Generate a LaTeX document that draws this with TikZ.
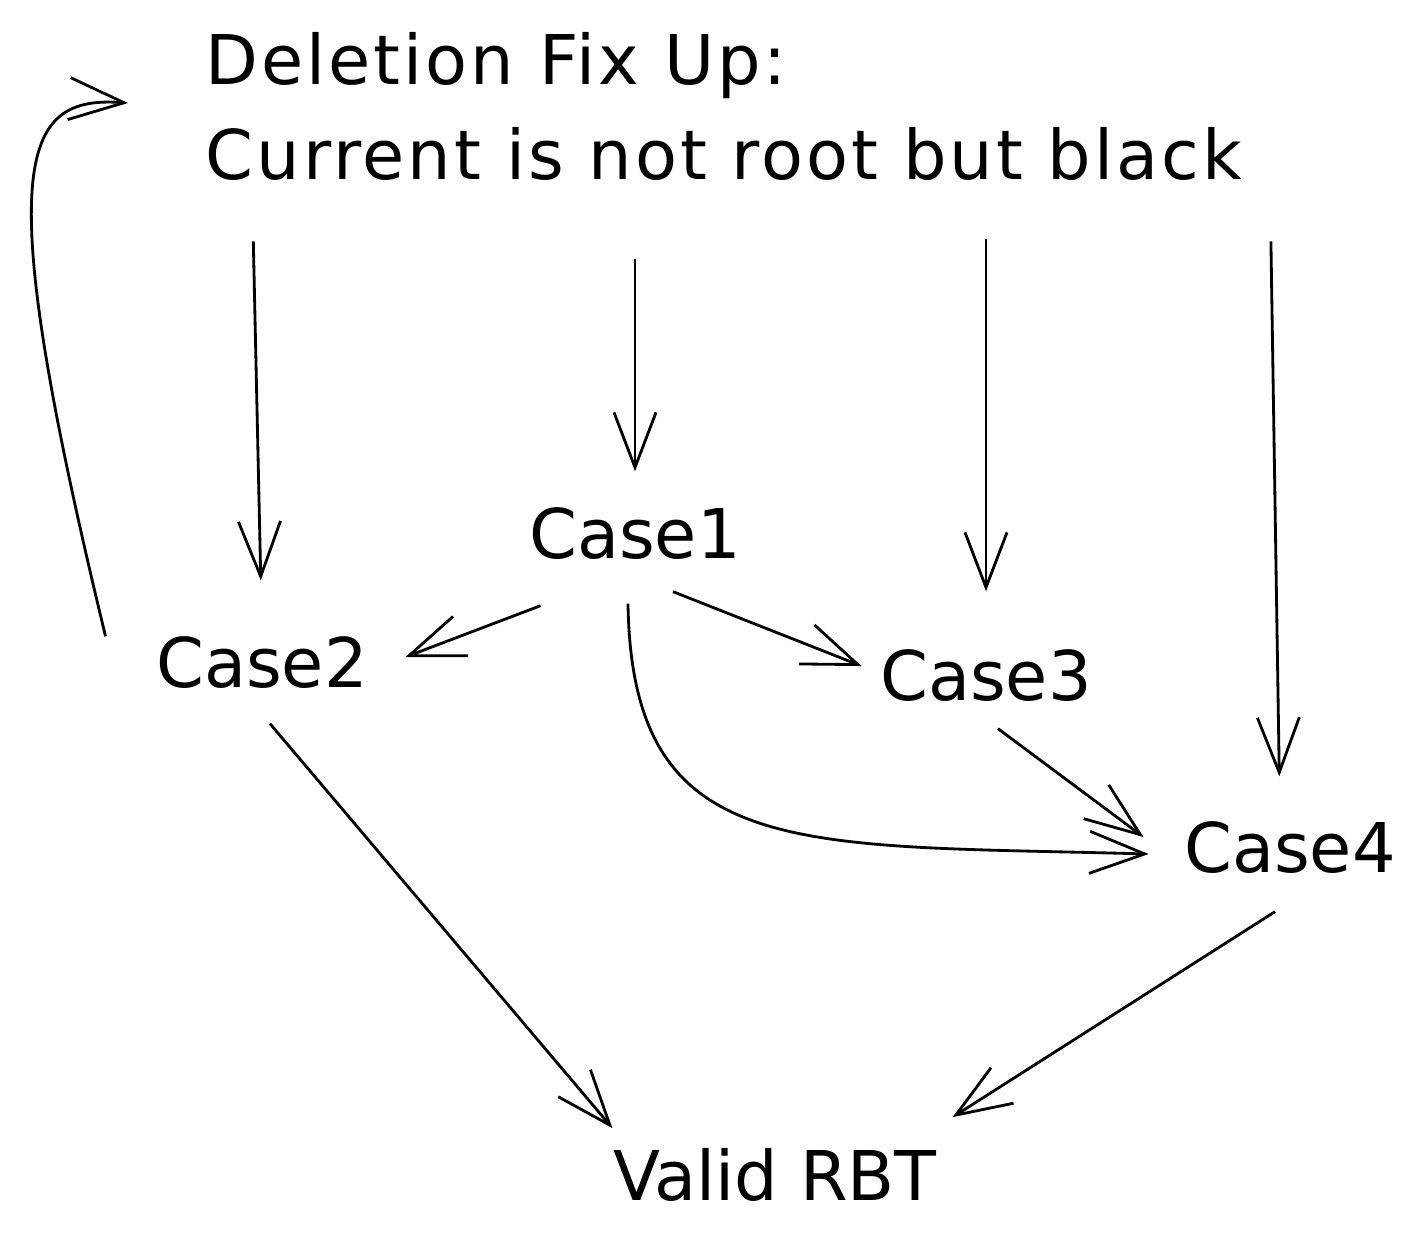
\documentclass[tikz,border=0pt]{standalone}
\usepackage{fontspec}
\setmainfont{DejaVu Sans}
\newfontfamily\titlefont[LetterSpace=4.4]{DejaVu Sans}
\usetikzlibrary{arrows.meta}

\begin{document}
\begin{tikzpicture}[x=0.01cm, y=-0.01cm,
  every node/.style={font=\fontsize{19.5pt}{27pt}\selectfont, inner sep=0pt},
  arr/.style={-{Straight Barb[length=5.5mm,width=4.2mm]}, line width=0.8pt}]
\useasboundingbox (0,0) rectangle (1423,1245);
% title
\node[anchor=north west, align=left, font=\fontsize{19.5pt}{27pt}\selectfont\titlefont] (title) at (205,32) {Deletion Fix Up:\\Current is not root but black};
% cases
\node[anchor=base] (case1) at (635,558) {Case1};
\node[anchor=base] (case2) at (262,687) {Case2};
\node[anchor=base] (case3) at (986,700) {Case3};
\node[anchor=base] (case4) at (1290,872) {Case4};
\node[anchor=base] (valid) at (775,1200) {Valid RBT};
% from the title down
\draw[arr, shorten <=0.6cm, shorten >=0.55cm] ([xshift=-0.1cm]title.south -| case2.north) -- (case2.north);
\draw[arr, shorten <=0.78cm, shorten >=0.35cm] (title.south -| case1.north) -- (case1.north);
\draw[arr, shorten <=0.58cm, shorten >=0.57cm] (title.south -| case3.north) -- (case3.north);
\draw[arr, shorten <=0.6cm, shorten >=0.44cm] ([xshift=-0.2cm]title.south -| case4.north) -- ([xshift=-0.1cm]case4.north);
% case1 out
\draw[arr] ([shift={(12,46)}]case1.south west) -- ([shift={(37,-5)}]case2.east);
\draw[arr] ([shift={(38,32)}]case1.south) -- ([shift={(-18,-9)}]case3.west);
\draw[arr] ([shift={(-7,44)}]case1.south) .. controls +(4,260) and +(-350,-10) .. ([shift={(-35,7)}]case4.west);
% case3 to case4
\draw[arr] ([shift={(12,27)}]case3.south) -- ([shift={(-40,-10)}]case4.west);
% to valid
\draw[arr] ([shift={(8,35)}]case2.south) -- ([shift={(0,-19)}]valid.north west);
\draw[arr] ([shift={(-15,38)}]case4.south) -- ([shift={(15,-30)}]valid.north east);
% loop back
\draw[arr] ([shift={(-50,1)}]case2.north west) .. controls (-10,160) and (20,95) .. ([shift={(-77,71)}]title.north west);
\end{tikzpicture}
\end{document}
